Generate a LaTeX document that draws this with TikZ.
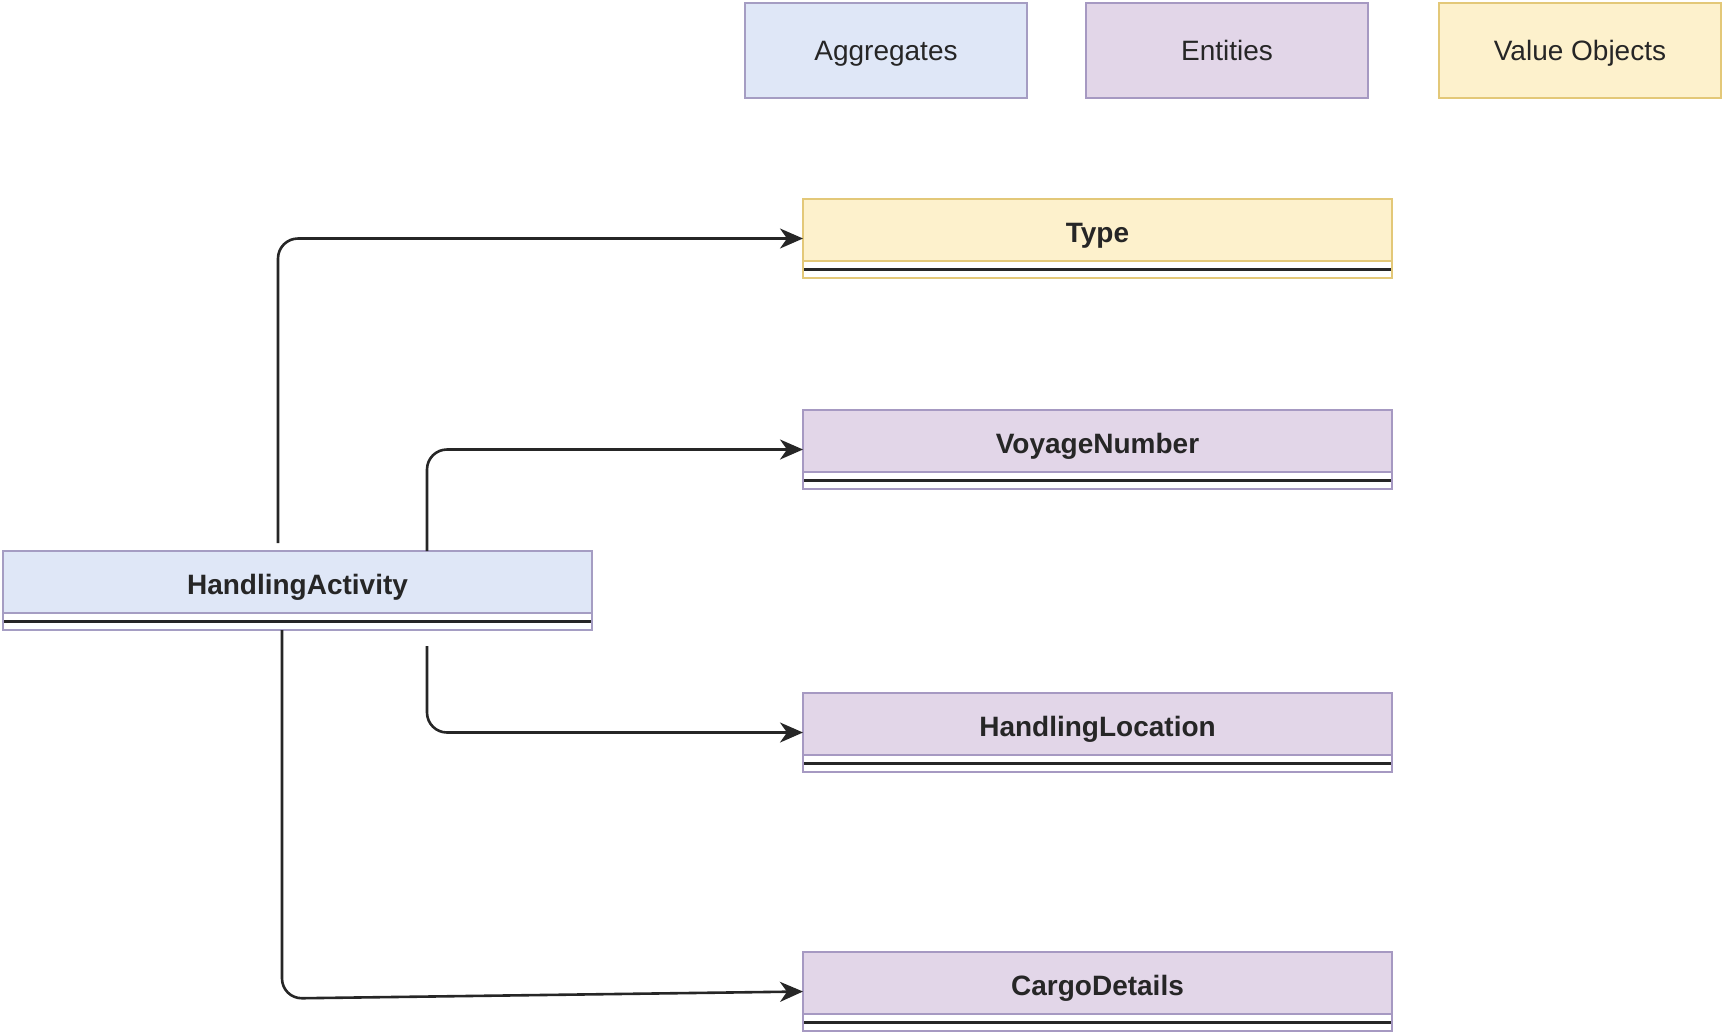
\documentclass[tikz,border=0pt]{standalone}
\usepackage{fontspec}
\setmainfont{Liberation Sans}
\usetikzlibrary{calc,arrows.meta}

\definecolor{aggfill}{HTML}{DFE7F7}
\definecolor{aggline}{HTML}{A59DC3}
\definecolor{entfill}{HTML}{E2D6E8}
\definecolor{entline}{HTML}{A699C2}
\definecolor{vofill}{HTML}{FDF1CC}
\definecolor{voline}{HTML}{E3C878}
\definecolor{ink}{HTML}{262626}

\tikzset{
  legend/.style={draw, line width=1pt, minimum width=141pt, minimum height=47.5pt,
    inner sep=0pt, outer sep=0pt, text height=10pt, text depth=0pt,
    font=\fontsize{14}{16}\selectfont, text=ink},
  classbody/.style={draw, line width=1pt, fill=white, minimum width=294.5pt,
    minimum height=39.5pt, inner sep=0pt, outer sep=0pt},
  classhead/.style={draw, line width=1pt, minimum width=294.5pt, minimum height=31pt,
    inner sep=0pt, outer sep=0pt, text height=12pt, text depth=0pt,
    font=\bfseries\fontsize{14}{16}\selectfont, text=ink},
  conn/.style={draw=ink, line width=1.3pt, rounded corners=10pt,
    -{Stealth[length=11.5pt,width=10pt,inset=3.5pt]}},
  divider/.style={draw=ink, line width=1.2pt}
}

% UML class box: name, centre x, top y, fill, border, title
\newcommand\umlclass[6]{%
  \node[classbody, draw=#5, anchor=north] (#1) at (#2,#3) {};
  \node[classhead, draw=#5, fill=#4, anchor=north] (#1-head) at (#1.north) {#6};
  \draw[divider] ($(#1.south west)!0.5!(#1-head.south west)+(1,0)$) --
                 ($(#1.south east)!0.5!(#1-head.south east)+(-1,0)$);
}

\begin{document}
\begin{tikzpicture}[x=0.5pt,y=-0.5pt]
  \useasboundingbox (0,0) rectangle (1725,1035);

  % legend
  \node[legend, fill=aggfill, draw=aggline, anchor=north west] (agg) at (745,3) {Aggregates};
  \node[legend, fill=entfill, draw=entline, anchor=north west] (ent) at (1086,3) {Entities};
  \node[legend, fill=vofill,  draw=voline,  anchor=north west] (vo)  at (1439,3) {Value Objects};

  % classes
  \umlclass{type}{1097.5}{199}{vofill}{voline}{Type}
  \umlclass{vn}{1097.5}{410}{entfill}{entline}{VoyageNumber}
  \umlclass{ha}{297.5}{551}{aggfill}{aggline}{HandlingActivity}
  \umlclass{hl}{1097.5}{693}{entfill}{entline}{HandlingLocation}
  \umlclass{cd}{1097.5}{952}{entfill}{entline}{CargoDetails}

  % associations
  \draw[conn] ($(ha.north west)+(275,-8)$) |- (type.west);
  \draw[conn] ($(ha.north west)+(424,0)$) |- (vn.west);
  \draw[conn] ($(ha.south west)+(424,16)$) |- (hl.west);
  \coordinate (cdstart) at ($(ha.south west)+(279,0)$);
  \draw[conn] (cdstart) -- ($(cdstart |- cd.west)+(0,7)$) -- (cd.west);
\end{tikzpicture}
\end{document}
